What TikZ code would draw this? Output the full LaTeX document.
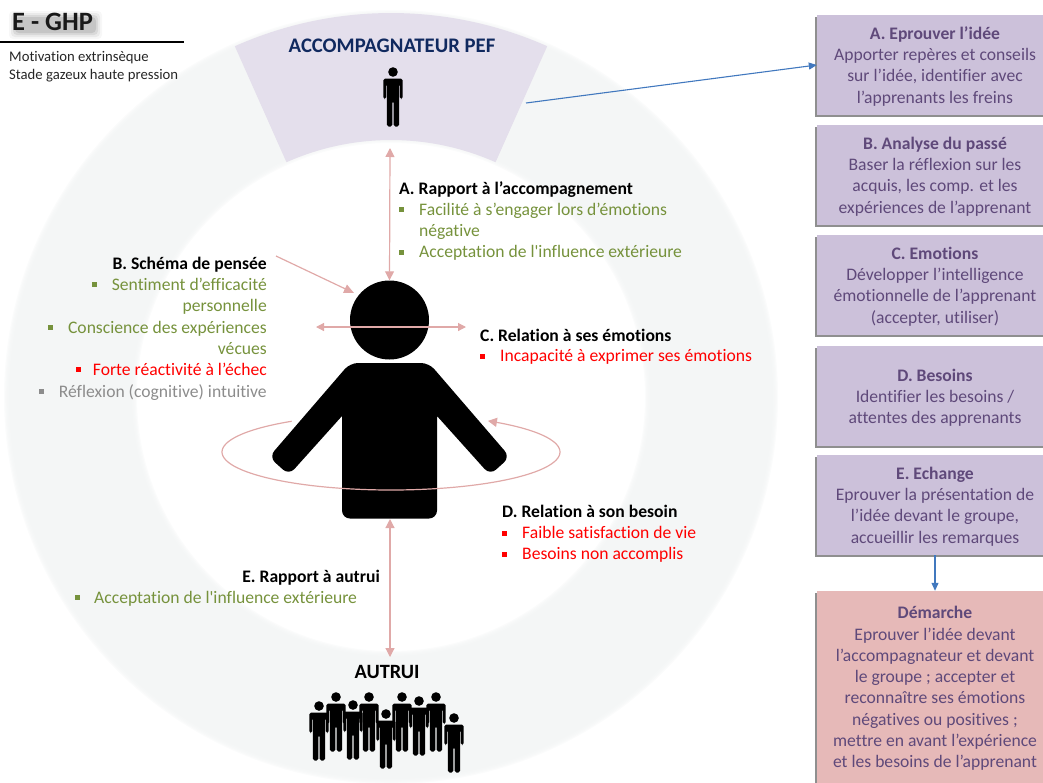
\documentclass[tikz,border=0pt]{standalone}
\usepackage{fontspec}
\setmainfont{Carlito}[Ligatures={TeXOff,NoCommon}]
\usetikzlibrary{arrows.meta,shadows}
\definecolor{ringc}{HTML}{F3F5F5}
\definecolor{sectc}{HTML}{E4DFEC}
\definecolor{pinkc}{HTML}{E0A9A8}
\definecolor{bluec}{HTML}{4178BE}
\definecolor{navyc}{HTML}{10295F}
\definecolor{greenc}{HTML}{76923C}
\definecolor{redc}{HTML}{FF0000}
\definecolor{greyc}{HTML}{8C8C8C}
\definecolor{lilac}{HTML}{CCC1DA}
\definecolor{rosec}{HTML}{E6B9B8}
\definecolor{purpc}{HTML}{5F497A}
\newcommand{\fstline}{\rule{0pt}{15.5pt}}
\tikzset{
  x=1pt,y=-1pt,
  body/.style={font=\fontsize{17.6}{21.3}\selectfont,inner sep=0pt},
  hd/.style={font=\fontsize{17.6}{21.3}\selectfont\bfseries,inner sep=0pt},
  txt/.style={body,anchor=base west},
  txr/.style={body,anchor=base east},
  bul/.style={inner sep=0pt,minimum size=5pt,draw=none},
  pinkarrow/.style={draw=pinkc,line width=1.2pt},
  bluearrow/.style={draw=bluec,line width=1.1pt,-{Triangle[length=8pt,width=7pt]}},
  boxs/.style={body,align=center,text=purpc,minimum width=236pt,
    drop shadow={shadow xshift=-2.2pt,shadow yshift=-2.2pt,fill=black!55,opacity=.8}},
  personicon/.pic={
    \fill[black] (0,0) circle[radius=4.8pt];
    \fill[black,rounded corners=1.8pt] (-9.6,6.5) -- (9.6,6.5) -- (9.6,27) -- (6.9,27) -- (6.9,12) -- (6.1,12) -- (6.1,54.5) -- (0.6,54.5) -- (0.6,29) -- (-0.6,29) -- (-0.6,54.5) -- (-6.1,54.5) -- (-6.1,12) -- (-6.9,12) -- (-6.9,27) -- (-9.6,27) -- cycle;
  }
}
\begin{document}
\begin{tikzpicture}
\useasboundingbox (0,0) rectangle (1043,782);
\clip (0,0) rectangle (1043,782);
% ring (soft edges) and sector
\foreach \d in {0,1,2,3,4,5,6}
  \fill[ringc,opacity=.35,even odd rule] (391,397) circle[radius={387-\d*1.2}] (391,397) circle[radius={254+\d*1.2}];
\fill[sectc] plot[domain=66:114,samples=50] ({391+384*cos(\x)},{397-384*sin(\x)})
  -- plot[domain=114:66,samples=50] ({391+257*cos(\x)},{397-257*sin(\x)}) -- cycle;
% title
\foreach \e/\o in {6/.03,4/.05,2/.07,0/.09}
  \fill[black,opacity=\o,rounded corners=4pt] (15-\e,17-\e) rectangle (96+\e,33+\e);
\node[font=\fontsize{26.5}{30}\selectfont\bfseries,inner sep=0pt,anchor=base west,text=black!90] (title) at (12,30.5) {E - GHP};
\coordinate (ruleA) at (0,42);
\coordinate (ruleB) at (184,42);
\draw[black,line width=1.2pt] (ruleA) -- (ruleB);
\node[font=\fontsize{14.7}{18}\selectfont,inner sep=0pt,anchor=base west,text=black!85] (motiv1) at (9,61) {Motivation extrinsèque};
\node[font=\fontsize{14.7}{18}\selectfont,inner sep=0pt,anchor=base west,text=black!85] (motiv2) at (9,79) {Stade gazeux haute pression};
% top
\node[font=\fontsize{20.7}{24}\selectfont\bfseries,text=navyc,inner sep=0pt] (accomp) at (392,45.5) {ACCOMPAGNATEUR PEF};
\pic at (393,72) {personicon};
% central person
\node[circle,fill=black,inner sep=0pt,minimum size=79pt] (head) at (389.5,320) {};
\fill[black,rounded corners=8pt] (350,363) -- (429,363) -- (510,457) -- (490,475) [sharp corners] -- (437,416) [rounded corners=8pt] -- (437,518.5) -- (342,518.5) [sharp corners] -- (342,416) [rounded corners=8pt] -- (289,475) -- (269,457) -- cycle;
\coordinate (torsoS) at (390,519);
% pink arrows
\coordinate (acS) at (390,148);
\draw[pinkarrow,{Triangle[length=9pt,width=9pt]}-{Triangle[length=9pt,width=9pt]}] (acS) -- (head.north);
\coordinate (bS) at (276,256);
\coordinate (bE) at (354,293);
\draw[pinkarrow,-{Triangle[length=10pt,width=9pt]}] (bS) -- (bE);
\coordinate (cL) at (316,327);
\coordinate (cR) at (466,327);
\draw[pinkarrow,{Triangle[length=8pt,width=8pt]}-{Triangle[length=8pt,width=8pt]}] (cL) -- (cR);
\draw[pinkarrow,-{Triangle[length=9pt,width=9pt]}] plot[domain=126:415,samples=100,smooth] ({391+169*cos(\x)},{452-38*sin(\x)});
\coordinate (eE) at (390,657);
\draw[pinkarrow,{Triangle[length=9pt,width=9pt]}-{Triangle[length=9pt,width=9pt]}] (torsoS) -- (eE);
% A
\node[hd,anchor=base west] (ah) at (399,194) {A. Rapport à l’accompagnement};
\node[bul,fill=greenc] (a1b) at (401,209) {};
\node[txt,text=greenc] (a1) at (419,215) {Facilité à s’engager lors d’émotions};
\node[txt,text=greenc] (a1x) at (419,236) {négative};
\node[bul,fill=greenc] (a2b) at (401,252) {};
\node[txt,text=greenc] (a2) at (419,257.5) {Acceptation de l'influence extérieure};
% B
\node[hd,anchor=base east] (bh) at (267,269) {B. Schéma de pensée};
\node[bul,fill=greenc] (b1b) at (94,284) {};
\node[txr,text=greenc] (b1) at (267,290) {Sentiment d’efficacité};
\node[txr,text=greenc] (b1x) at (267,311) {personnelle};
\node[bul,fill=greenc] (b2b) at (50,327) {};
\node[txr,text=greenc] (b2) at (267,333) {Conscience des expériences};
\node[txr,text=greenc] (b2x) at (267,354) {vécues};
\node[bul,fill=redc] (b3b) at (78,369) {};
\node[txr,text=redc] (b3) at (267,375) {Forte réactivité à l’échec};
\node[bul,fill=greyc] (b4b) at (41,391) {};
\node[txr,text=greyc] (b4) at (267,397) {Réflexion (cognitive) intuitive};
% C
\node[hd,anchor=base west] (ch) at (480,341) {C. Relation à ses émotions};
\node[bul,fill=redc] (c1b) at (482,356) {};
\node[txt,text=redc] (c1) at (500,361.5) {Incapacité à exprimer ses émotions};
% D
\node[hd,anchor=base west] (dh) at (502,517) {D. Relation à son besoin};
\node[bul,fill=redc] (d1b) at (504,533) {};
\node[txt,text=redc] (d1) at (522,538.5) {Faible satisfaction de vie};
\node[bul,fill=redc] (d2b) at (504,554) {};
\node[txt,text=redc] (d2) at (522,559.5) {Besoins non accomplis};
% E
\node[hd,anchor=base east] (eh) at (380,582) {E. Rapport à autrui};
\node[bul,fill=greenc] (e1b) at (77,597) {};
\node[txt,text=greenc] (e1) at (94,603) {Acceptation de l'influence extérieure};
% autrui
\node[font=\fontsize{20.3}{24}\selectfont\bfseries,inner sep=0pt] (autrui) at (387,672) {AUTRUI};
\foreach \px/\py in {319/706,336/697,353/705,369/697,402/697,419/701,436/697,386/714,454/718}
  \pic at (\px,\py) {personicon};
% boxes
\node[boxs,fill=lilac,minimum height=100pt] (boxA) at (935,65) {\fstline\textbf{A. Eprouver l’idée}\\Apporter repères et conseils\\sur l’idée, identifier avec\\l’apprenants les freins};
\node[boxs,fill=lilac,minimum height=100pt] (boxB) at (935,175) {\fstline\textbf{B. Analyse du passé}\\Baser la réflexion sur les\\acquis, les comp. et les\\expériences de l’apprenant};
\node[boxs,fill=lilac,minimum height=100pt] (boxC) at (935,285) {\fstline\textbf{C. Emotions}\\Développer l’intelligence\\émotionnelle de l’apprenant\\(accepter, utiliser)};
\node[boxs,fill=lilac,minimum height=100pt] (boxD) at (935,396) {\fstline\textbf{D. Besoins}\\Identifier les besoins /\\attentes des apprenants};
\node[boxs,fill=lilac,minimum height=100pt] (boxE) at (935,505) {\fstline\textbf{E. Echange}\\Eprouver la présentation de\\l’idée devant le groupe,\\accueillir les remarques};
\node[boxs,fill=rosec,minimum height=192pt] (boxF) at (935,687) {\fstline\textbf{Démarche}\\Eprouver l’idée devant\\l’accompagnateur et devant\\le groupe ; accepter et\\reconnaître ses émotions\\négatives ou positives ;\\mettre en avant l’expérience\\et les besoins de l’apprenant};
% blue
\coordinate (blueS) at (526,103);
\draw[bluearrow] (blueS) -- (boxA.west);
\draw[bluearrow] (boxE.south) -- (boxF.north);
\end{tikzpicture}
\end{document}
